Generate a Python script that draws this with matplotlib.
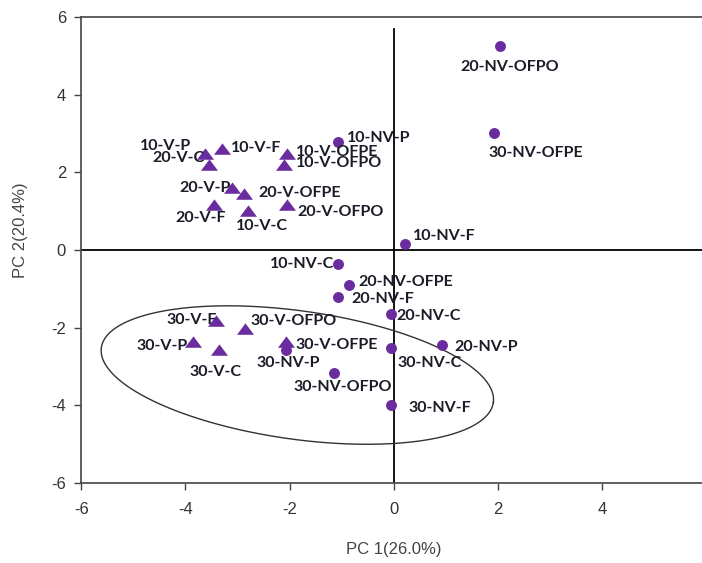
import numpy as np
import matplotlib
matplotlib.use("Agg")
import matplotlib.pyplot as plt

plt.rcParams["axes.unicode_minus"] = False

# ---- data (PC1, PC2 scores) ----
v_labels = ["10-V-P", "10-V-F", "20-V-C", "10-V-OFPE", "10-V-OFPO", "20-V-P",
            "20-V-OFPE", "20-V-F", "10-V-C", "20-V-OFPO",
            "30-V-F", "30-V-OFPO", "30-V-P", "30-V-C", "30-V-OFPE"]
v_pc1 = [-3.62, -3.30, -3.54, -2.04, -2.10, -3.11, -2.87, -3.46, -2.80, -2.04,
         -3.41, -2.86, -3.86, -3.35, -2.06]
v_pc2 = [2.46, 2.61, 2.18, 2.46, 2.18, 1.60, 1.45, 1.17, 1.00, 1.17,
         -1.83, -2.03, -2.38, -2.58, -2.38]

nv_labels = ["20-NV-OFPO", "30-NV-OFPE", "10-NV-P", "10-NV-F", "10-NV-C",
             "20-NV-OFPE", "20-NV-F", "20-NV-C", "20-NV-P", "30-NV-C",
             "30-NV-P", "30-NV-OFPO", "30-NV-F"]
nv_pc1 = [2.04, 1.92, -1.07, 0.21, -1.07, -0.85, -1.06, -0.05, 0.93, -0.06,
          -2.06, -1.14, -0.06]
nv_pc2 = [5.25, 3.02, 2.79, 0.16, -0.36, -0.91, -1.21, -1.64, -2.44, -2.53,
          -2.58, -3.18, -4.00]

x_ticks = [-6, -4, -2, 0, 2, 4, 6]
y_ticks = [-6, -4, -2, 0, 2, 4, 6]
x_title = "PC 1(26.0%)"
y_title = "PC 2(20.4%)"

# label offsets in pixels (dx, dy_down, ha)
label_style = {
    "10-V-P": (-14, -8, "right"), "10-V-F": (9, -1, "left"),
    "20-V-C": (-5, -7, "right"), "10-V-OFPE": (9, -2, "left"),
    "10-V-OFPO": (12, -2, "left"), "20-V-P": (-1, 0, "right"),
    "20-V-OFPE": (14, -1, "left"), "20-V-F": (12, 13, "right"),
    "10-V-C": (-12, 15, "left"), "20-V-OFPO": (10, 7, "left"),
    "30-V-F": (1, -1, "right"), "30-V-OFPO": (6, -8, "left"),
    "30-V-P": (-5, 4, "right"), "30-V-C": (-4, 22, "center"),
    "30-V-OFPE": (9, 3, "left"),
    "20-NV-OFPO": (-39, 21, "left"), "30-NV-OFPE": (-5, 20, "left"),
    "10-NV-P": (9, -4, "left"), "10-NV-F": (8, -8, "left"),
    "10-NV-C": (-4, 0, "right"), "20-NV-OFPE": (9, -3, "left"),
    "20-NV-F": (13, 2, "left"), "20-NV-C": (5, 2, "left"),
    "20-NV-P": (12, 2, "left"), "30-NV-C": (7, 15, "left"),
    "30-NV-P": (-30, 13, "left"), "30-NV-OFPO": (-41, 14, "left"),
    "30-NV-F": (18, 3, "left"),
}

# ellipse (in pixel units around a data-space centre)
ell_center = (-1.85, -3.22)
ell_a_px, ell_b_px, ell_angle_deg = 197.9, 64.2, 7.96

W, H, DPI = 702, 563, 100
fig = plt.figure(figsize=(W / DPI, H / DPI), dpi=DPI)
left_px, right_px, top_px, bot_px = 81.3, 706.0, 17.0, 483.0
ax = fig.add_axes([left_px / W, 1 - bot_px / H, (right_px - left_px) / W,
                   (bot_px - top_px) / H])
ax.set_xlim(-6, 6)
ax.set_ylim(-6, 6)
ppx = (right_px - left_px) / 12.0
ppy = (bot_px - top_px) / 12.0

purple = "#6A2C9E"
tri = [(-1, -0.62), (1, -0.62), (0, 0.72), (-1, -0.62)]
ax.scatter(v_pc1, v_pc2, marker=tri, s=150, color=purple, zorder=3, linewidths=0)
ax.scatter(nv_pc1, nv_pc2, marker="o", s=62, color=purple, zorder=3, linewidths=0)

# reference lines
ax.axhline(0, color="black", lw=1.3, zorder=1)
ax.plot([0, 0], [-6, 5.68], color="black", lw=1.3, zorder=1)

# ellipse
t = np.linspace(0, 2 * np.pi, 400)
th = np.deg2rad(ell_angle_deg)
ex = ell_a_px * np.cos(t) * np.cos(th) - ell_b_px * np.sin(t) * np.sin(th)
ey = ell_a_px * np.cos(t) * np.sin(th) + ell_b_px * np.sin(t) * np.cos(th)
ax.plot(ell_center[0] + ex / ppx, ell_center[1] - ey / ppy, color="#333333",
        lw=1.0, zorder=2)

lab_font = dict(family=["Lato", "DejaVu Sans"], fontsize=11.5, fontweight="bold",
                color="#1c1c28")
for labels, xs, ys in ((v_labels, v_pc1, v_pc2), (nv_labels, nv_pc1, nv_pc2)):
    for lab, x, y in zip(labels, xs, ys):
        dx, dy, ha = label_style[lab]
        ax.annotate(lab, (x, y), xytext=(dx * 72 / DPI, -dy * 72 / DPI),
                    textcoords="offset points", ha=ha, va="center", zorder=4,
                    **lab_font)

for s in ["left", "bottom", "top"]:
    ax.spines[s].set_color("#444444")
    ax.spines[s].set_linewidth(1.2)
ax.spines["right"].set_visible(False)
ax.set_xticks(x_ticks)
ax.set_yticks(y_ticks)
ax.tick_params(direction="out", length=5, width=1, color="#444444",
               labelsize=12, labelcolor="#333333", pad=6)
ax.tick_params(axis="x", pad=9)
for lbl in ax.get_xticklabels() + ax.get_yticklabels():
    lbl.set_family(["Liberation Sans", "DejaVu Sans"])
ax.set_xlabel(x_title, fontsize=12, color="#444444",
              family=["Liberation Sans", "DejaVu Sans"], labelpad=18)
ax.set_ylabel(y_title, fontsize=12, color="#444444",
              family=["Liberation Sans", "DejaVu Sans"])
ax.yaxis.set_label_coords(-0.085, 0.543)

fig.savefig("out.png", dpi=DPI)
